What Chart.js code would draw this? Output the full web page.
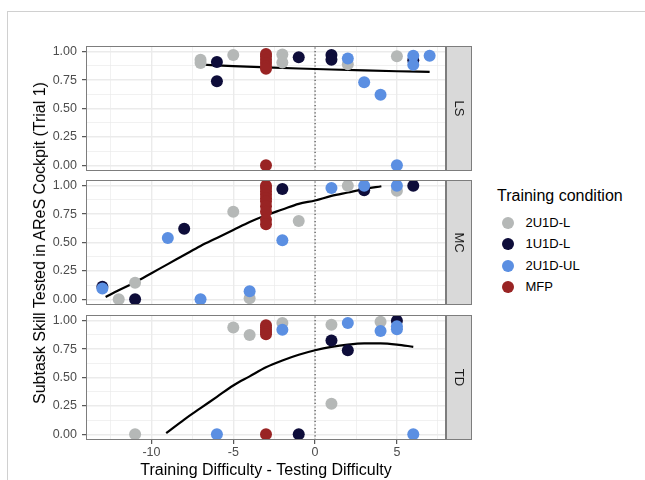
<!DOCTYPE html>
<html><head><meta charset="utf-8">
<script src="https://cdn.jsdelivr.net/npm/chart.js@4.4.1/dist/chart.umd.min.js"></script>
<style>
html,body{margin:0;padding:0;background:#fff;}
body{width:645px;height:480px;position:relative;overflow:hidden;font-family:"Liberation Sans",Arial,sans-serif;}
.frame{position:absolute;left:7px;top:11px;width:700px;height:520px;border-top:1px solid #d0d0d0;border-left:1px solid #d0d0d0;}
canvas{position:absolute;left:0;}
#ytitle{position:absolute;left:40px;top:242.5px;transform:translate(-50%,-50%) rotate(-90deg);white-space:nowrap;font-size:16px;color:#000;}
#legend{position:absolute;left:0;top:0;}
.ltitle{position:absolute;left:497px;top:186px;font-size:16px;line-height:20px;white-space:nowrap;color:#000;}
.dot{position:absolute;left:501.5px;width:12px;height:12px;border-radius:50%;}
.ltext{position:absolute;left:525.5px;font-size:13px;line-height:16px;white-space:nowrap;color:#000;}
</style></head>
<body>
<div class="frame"></div>
<canvas id="cLS" width="472" height="151" style="top:33px"></canvas>
<canvas id="cMC" width="472" height="151" style="top:167px"></canvas>
<canvas id="cTD" width="472" height="178" style="top:302px"></canvas>
<div id="ytitle">Subtask Skill Tested in AReS Cockpit (Trial 1)</div>
<div id="legend"></div>
<script>
// ---- categories / groups ----
const groups = ['2U1D-L', '1U1D-L', '2U1D-UL', 'MFP'];
const groupColors = ['#b5b8b7', '#0e0d3a', '#5b8fe2', '#992424'];
const panels = ['LS', 'MC', 'TD'];

// ---- tick values and labels ----
const xTickValues = [-12.5, -10, -7.5, -5, -2.5, 0, 2.5, 5, 7.5];
const xMajor = [-10, -5, 0, 5];
const xMajorLabels = ['-10', '-5', '0', '5'];
const yTickValues = [0, 0.125, 0.25, 0.375, 0.5, 0.625, 0.75, 0.875, 1];
const yMajor = [0, 0.25, 0.5, 0.75, 1];
const yMajorLabels = ['0.00', '0.25', '0.50', '0.75', '1.00'];

// ---- LS panel: [training - testing difficulty, proportion] ----
const ls_2U1D_L  = [[-7,0.93],[-7,0.90],[-5,0.97],[-2,0.975],[-2,0.905],[2,0.89],[5,0.96]];
const ls_1U1D_L  = [[-6,0.91],[-6,0.74],[-1,0.95],[1,0.97],[1,0.93],[6,0.925]];
const ls_2U1D_UL = [[2,0.94],[3,0.73],[4,0.62],[5,0.00],[6,0.965],[6,0.885],[7,0.965]];
const ls_MFP     = [[-3,0.98],[-3,0.96],[-3,0.93],[-3,0.90],[-3,0.87],[-3,0.85],[-3,0.00]];
const ls_fit     = [[-7,0.887],[-5,0.873],[-3,0.862],[-1,0.852],[1,0.843],[3,0.835],[5,0.828],[7,0.822]];

// ---- MC panel ----
const mc_2U1D_L  = [[-12,0.00],[-11,0.145],[-5,0.77],[-4,0.01],[-1,0.69],[2,1.00],[5,0.955]];
const mc_1U1D_L  = [[-13,0.11],[-11,0.00],[-8,0.62],[-2,0.97],[3,0.96],[6,1.00]];
const mc_2U1D_UL = [[-13,0.095],[-9,0.54],[-7,0.00],[-4,0.07],[-2,0.52],[1,0.98],[3,1.00],[5,1.00]];
const mc_MFP     = [[-3,1.00],[-3,0.98],[-3,0.95],[-3,0.92],[-3,0.89],[-3,0.86],[-3,0.82],[-3,0.77],[-3,0.70],[-3,0.66]];
const mc_fit     = [[-12.8,0.02],[-12,0.08],[-11,0.15],[-10,0.23],[-9,0.31],[-8,0.39],[-7,0.47],[-6,0.54],[-5,0.61],[-4,0.68],[-3,0.74],[-2,0.79],[-1,0.84],[0,0.87],[1,0.91],[2,0.94],[3,0.97],[4.05,0.995]];

// ---- TD panel ----
const td_2U1D_L  = [[-11,0.00],[-5,0.94],[-4,0.875],[-2,0.98],[1,0.965],[1,0.27],[4,0.99]];
const td_1U1D_L  = [[-1,0.00],[1,0.825],[2,0.74],[5,1.00]];
const td_2U1D_UL = [[-6,0.00],[-2,0.92],[2,0.98],[4,0.91],[5,0.95],[5,0.925],[6,0.00]];
const td_MFP     = [[-3,0.96],[-3,0.94],[-3,0.92],[-3,0.90],[-3,0.88],[-3,0.00]];
const td_fit     = [[-9.1,0.01],[-8,0.13],[-7,0.23],[-6,0.33],[-5,0.43],[-4,0.51],[-3,0.59],[-2,0.65],[-1,0.70],[0,0.74],[1,0.77],[2,0.79],[3,0.80],[4,0.80],[5,0.79],[6,0.77]];

// reference line at zero difference
const zeroLine = [[0,-0.05],[0,1.05]];

const FONT = '"Liberation Sans", Arial, sans-serif';
const toXY = arr => arr.map(p => ({x: p[0], y: p[1]}));
const isMaj = (list, v) => list.some(m => Math.abs(m - v) < 1e-9);

const panelDeco = {
  id: 'panelDeco',
  afterDatasetsDraw(chart, args, opts) {
    const {ctx, chartArea: a} = chart;
    ctx.save();
    ctx.strokeStyle = '#7d7d7d';
    ctx.lineWidth = 1;
    const L = Math.round(a.left), T = Math.round(a.top), R = Math.round(a.right), B = Math.round(a.bottom);
    ctx.strokeRect(L + 0.5, T + 0.5, R - L - 1, B - T - 1);
    const sw = 26;
    ctx.fillStyle = '#d9d9d9';
    ctx.fillRect(R, T, sw, B - T);
    ctx.strokeRect(R + 0.5, T + 0.5, sw - 1, B - T - 1);
    ctx.translate(R + sw / 2, (T + B) / 2);
    ctx.rotate(Math.PI / 2);
    ctx.fillStyle = '#1a1a1a';
    ctx.font = '13px ' + FONT;
    ctx.textAlign = 'center';
    ctx.textBaseline = 'middle';
    ctx.fillText(opts.label, 0, 0);
    ctx.restore();
  }
};

function makePanel(id, label, sets, fit, bottom) {
  const datasets = [];
  datasets.push({type: 'line', data: toXY(zeroLine), borderColor: '#3a3a3a', borderWidth: 1.1,
    borderDash: [1.2, 2.4], pointRadius: 0, order: 6});
  datasets.push({type: 'line', data: toXY(fit), borderColor: '#000', borderWidth: 2.2,
    pointRadius: 0, cubicInterpolationMode: 'monotone', order: 5});
  sets.forEach((s, k) => datasets.push({type: 'scatter', label: groups[k], data: toXY(s),
    backgroundColor: groupColors[k], borderWidth: 0, pointRadius: 6, pointHoverRadius: 6, order: 4 - k}));

  return new Chart(document.getElementById(id), {
    type: 'scatter',
    data: {datasets},
    plugins: [panelDeco],
    options: {
      responsive: false,
      animation: false,
      devicePixelRatio: 1,
      layout: {padding: {top: 13, right: 26, bottom: bottom ? 0 : 13, left: 0}},
      plugins: {legend: {display: false}, tooltip: {enabled: false}, panelDeco: {label}},
      events: [],
      scales: {
        x: {
          type: 'linear', min: -14, max: 8,
          afterBuildTicks: s => { s.ticks = xTickValues.map(v => ({value: v})); },
          afterFit: s => { s.height = bottom ? 40 : 0; },
          border: {display: false},
          grid: {
            color: '#ebebeb',
            lineWidth: c => isMaj(xMajor, c.tick.value) ? 1.4 : 0.7,
            drawTicks: bottom, tickLength: 4, tickWidth: 1,
            tickColor: c => isMaj(xMajor, c.tick.value) ? '#333333' : 'rgba(0,0,0,0)'
          },
          ticks: {
            display: bottom, autoSkip: false, maxRotation: 0, padding: 1,
            color: '#4d4d4d', font: {size: 12.5, family: FONT},
            callback: v => { const i = xMajor.findIndex(m => Math.abs(m - v) < 1e-9); return i >= 0 ? xMajorLabels[i] : ''; }
          },
          title: {display: bottom, text: 'Training Difficulty - Testing Difficulty', color: '#000',
            font: {size: 16, family: FONT}, padding: {top: 0, bottom: 0}}
        },
        y: {
          type: 'linear', min: -0.05, max: 1.05,
          afterBuildTicks: s => { s.ticks = yTickValues.map(v => ({value: v})); },
          afterFit: s => { s.width = 86; },
          border: {display: false},
          grid: {
            color: '#ebebeb',
            lineWidth: c => isMaj(yMajor, c.tick.value) ? 1.4 : 0.7,
            drawTicks: true, tickLength: 4, tickWidth: 1,
            tickColor: c => isMaj(yMajor, c.tick.value) ? '#333333' : 'rgba(0,0,0,0)'
          },
          ticks: {
            autoSkip: false, padding: 5, color: '#4d4d4d', font: {size: 12.5, family: FONT},
            callback: v => { const i = yMajor.findIndex(m => Math.abs(m - v) < 1e-9); return i >= 0 ? yMajorLabels[i] : ''; }
          }
        }
      }
    }
  });
}

makePanel('cLS', panels[0], [ls_2U1D_L, ls_1U1D_L, ls_2U1D_UL, ls_MFP], ls_fit, false);
makePanel('cMC', panels[1], [mc_2U1D_L, mc_1U1D_L, mc_2U1D_UL, mc_MFP], mc_fit, false);
makePanel('cTD', panels[2], [td_2U1D_L, td_1U1D_L, td_2U1D_UL, td_MFP], td_fit, true);

// legend
const lg = document.getElementById('legend');
const t = document.createElement('div');
t.className = 'ltitle'; t.textContent = 'Training condition';
lg.appendChild(t);
groups.forEach((g, k) => {
  const cy = 222.7 + k * 21.5;
  const d = document.createElement('div');
  d.className = 'dot'; d.style.top = (cy - 6) + 'px'; d.style.background = groupColors[k];
  lg.appendChild(d);
  const s = document.createElement('div');
  s.className = 'ltext'; s.style.top = (cy - 8) + 'px'; s.textContent = g;
  lg.appendChild(s);
});
</script>
</body></html>
